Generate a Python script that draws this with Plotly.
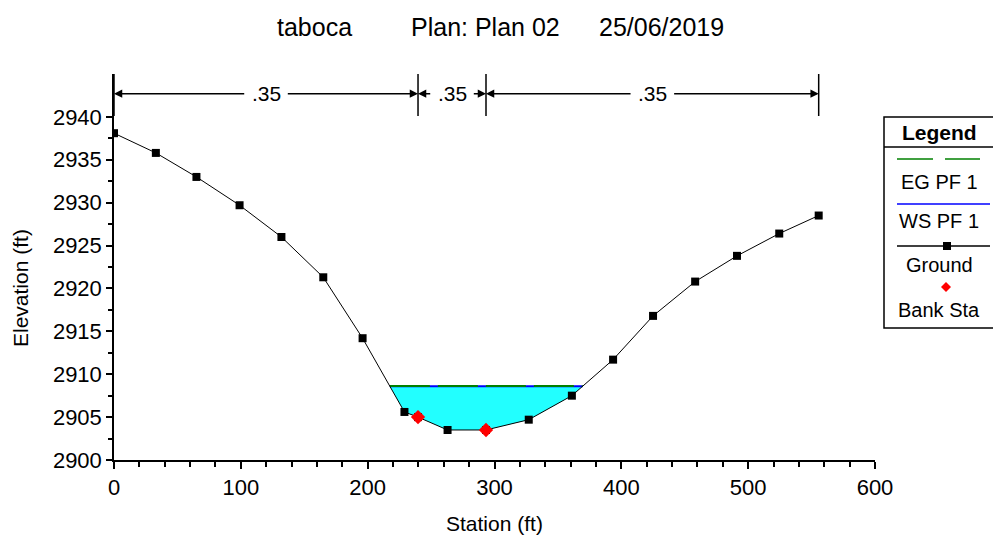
import numpy as np
import plotly.graph_objects as go

# ---------------- data ----------------
station = [0, 33, 65, 99, 132, 165, 196, 229, 239.7, 263, 293.3, 327, 361, 393.5, 425, 458.2, 491.2, 524.5, 555.6]
elevation = [2938.1, 2935.8, 2933.0, 2929.7, 2926.0, 2921.3, 2914.2, 2905.6, 2905.0, 2903.5, 2903.5,
             2904.7, 2907.5, 2911.7, 2916.8, 2920.8, 2923.8, 2926.4, 2928.5]
bank_station = [239.7, 293.3]
bank_elev = [2905.0, 2903.5]
ws_elev = 2908.6
eg_elev = 2908.62
n_bounds = [0, 239.7, 293.3, 555.6]
n_values = [".35", ".35", ".35"]
legend_items = ["EG PF 1", "WS PF 1", "Ground", "Bank Sta"]
title_parts = ["taboca", "Plan: Plan 02", "25/06/2019"]

# ---------------- geometry helpers ----------------
# the page body has an 8px default margin, so the figure is drawn 8px smaller
OX, OY = 8, 8
WIN_W, WIN_H = 1001, 538
W, H = WIN_W - OX, WIN_H - OY
PLOT_LEFT, PLOT_RIGHT, PLOT_TOP, PLOT_BOTTOM = 114, 875, 74, 460
L = PLOT_LEFT - OX
T = PLOT_TOP - OY
B = WIN_H - PLOT_BOTTOM
R = WIN_W - PLOT_RIGHT
PW, PH = W - L - R, H - T - B


def px(x):
    return (x - OX - L) / PW


def py(y):
    return (H - B - (y - OY)) / PH


FONT = "Liberation Sans, Arial, sans-serif"

st = np.array(station, dtype=float)
el = np.array(elevation, dtype=float)

# water surface intersections with ground
below = np.where(el < ws_elev)[0]
i0, i1 = below[0], below[-1]
xl = st[i0 - 1] + (ws_elev - el[i0 - 1]) * (st[i0] - st[i0 - 1]) / (el[i0] - el[i0 - 1])
xr = st[i1] + (ws_elev - el[i1]) * (st[i1 + 1] - st[i1]) / (el[i1 + 1] - el[i1])
poly_x = [xl] + list(st[below]) + [xr, xl]
poly_y = [ws_elev] + list(el[below]) + [ws_elev, ws_elev]

fig = go.Figure()
fig.add_trace(go.Scatter(x=poly_x, y=poly_y, fill="toself", fillcolor="#22FFFF",
                         line=dict(width=0), mode="lines", hoverinfo="skip", showlegend=False))
fig.add_trace(go.Scatter(x=[xl, xr], y=[ws_elev, ws_elev], mode="lines",
                         line=dict(color="#0000FF", width=2), showlegend=False))
fig.add_trace(go.Scatter(x=[xl, xr], y=[eg_elev, eg_elev], mode="lines",
                         line=dict(color="#008000", width=2, dash="40px,8px"), showlegend=False))
fig.add_trace(go.Scatter(x=station, y=elevation, mode="lines+markers",
                         line=dict(color="black", width=1),
                         marker=dict(symbol="square", size=8, color="black"), showlegend=False))
fig.add_trace(go.Scatter(x=bank_station, y=bank_elev, mode="markers",
                         marker=dict(symbol="diamond", size=11, color="#FF0000"), showlegend=False))

shapes = []
annotations = []


def label(x, y, text, size, xanchor="center", angle=0, xref="paper", yref="paper"):
    return dict(x=x, y=y, xref=xref, yref=yref, text=text, showarrow=False,
                xanchor=xanchor, yanchor="middle", textangle=angle,
                font=dict(family=FONT, size=size, color="black"))


# Manning's n indicators
n_top, n_bot, n_arrow = 2945.0, 2940.1, 2942.7
for b in n_bounds:
    shapes.append(dict(type="line", xref="x", yref="y", x0=b, x1=b, y0=n_bot, y1=n_top,
                       line=dict(color="black", width=1.5)))
gap = 16
for i, txt in enumerate(n_values):
    a, b = n_bounds[i], n_bounds[i + 1]
    c = (a + b) / 2
    annotations.append(label(c, n_arrow, txt, 21, xref="x", yref="y"))
    for head, tail in [(a, c - gap), (b, c + gap)]:
        annotations.append(dict(x=head, y=n_arrow, ax=tail, ay=n_arrow, xref="x", yref="y",
                                axref="x", ayref="y", text="", showarrow=True,
                                arrowhead=2, arrowsize=1.1, arrowwidth=1.5, arrowcolor="black"))

# Title
for txt, xleft in zip(title_parts, [275, 409, 597]):
    annotations.append(label(px(xleft), py(27), txt, 25, xanchor="left"))

# Axis titles
annotations.append(label(px(494), py(523), "Station (ft)", 21))
annotations.append(label(px(20), py(288), "Elevation (ft)", 21, angle=-90))

# Legend (drawn manually)
lx0, lx1, ly0, ly1 = 884, 995, 117, 328
lcx = (lx0 + lx1) / 2
shapes.append(dict(type="rect", xref="paper", yref="paper", x0=px(lx0), x1=px(lx1),
                   y0=py(ly1), y1=py(ly0), line=dict(color="black", width=1.5), fillcolor="white"))
shapes.append(dict(type="line", xref="paper", yref="paper", x0=px(lx0), x1=px(lx1),
                   y0=py(147), y1=py(147), line=dict(color="black", width=1.5)))
annotations.append(label(px(lcx), py(132), "<b>Legend</b>", 21))
# EG dashed line
for a, b in [(897, 933), (945, 980)]:
    shapes.append(dict(type="line", xref="paper", yref="paper", x0=px(a), x1=px(b),
                       y0=py(159), y1=py(159), line=dict(color="#008000", width=1.5)))
# WS line
shapes.append(dict(type="line", xref="paper", yref="paper", x0=px(897), x1=px(990),
                   y0=py(204), y1=py(204), line=dict(color="#0000FF", width=1.5)))
# Ground line + square
shapes.append(dict(type="line", xref="paper", yref="paper", x0=px(897), x1=px(990),
                   y0=py(246), y1=py(246), line=dict(color="black", width=1.5)))
shapes.append(dict(type="rect", xref="paper", yref="paper", x0=px(943), x1=px(951),
                   y0=py(250), y1=py(242), line=dict(width=0), fillcolor="black"))
# Bank Sta diamond
cx, cy, r = 946, 287, 5
shapes.append(dict(type="path", xref="paper", yref="paper",
                   path=f"M {px(cx - r)},{py(cy)} L {px(cx)},{py(cy - r)} L {px(cx + r)},{py(cy)} L {px(cx)},{py(cy + r)} Z",
                   line=dict(width=0), fillcolor="#FF0000"))
for txt, yy in zip(legend_items, [182, 221, 265, 310]):
    annotations.append(label(px(lcx), py(yy), txt, 20))

fig.update_layout(
    width=W, height=H,
    margin=dict(l=L, r=R, t=T, b=B),
    paper_bgcolor="white", plot_bgcolor="white",
    showlegend=False,
    shapes=shapes, annotations=annotations,
    xaxis=dict(range=[0, 600],
               tickvals=[0, 100, 200, 300, 400, 500, 600], showgrid=False,
               zeroline=False, showline=True, linecolor="black", linewidth=1.5,
               ticks="outside", ticklen=7, tickwidth=1.5, tickcolor="black",
               minor=dict(tickvals=[v for v in range(20, 600, 20) if v % 100], ticks="outside",
                          ticklen=5, tickwidth=1.5, tickcolor="black"),
               tickfont=dict(family=FONT, size=22, color="black")),
    yaxis=dict(range=[2900, 2945], tickvals=[2900, 2905, 2910, 2915, 2920, 2925, 2930, 2935, 2940],
               showgrid=False, zeroline=False, showline=True, linecolor="black", linewidth=1.5,
               ticks="outside", ticklen=6, tickwidth=1.5, tickcolor="black",
               minor=dict(tickvals=[2902.5 + 5 * k for k in range(8)], ticks="outside",
                          ticklen=4, tickwidth=1.5, tickcolor="black"),
               tickfont=dict(family=FONT, size=22, color="black")),
)

fig.write_html("out.html", config={"displayModeBar": False})
